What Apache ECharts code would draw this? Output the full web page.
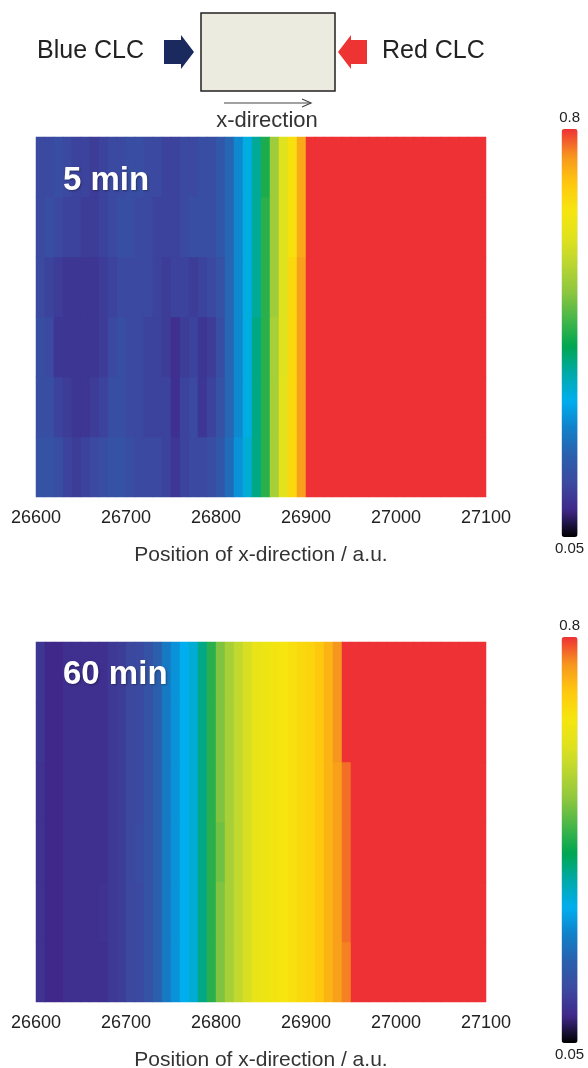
<!DOCTYPE html>
<html>
<head>
<meta charset="utf-8">
<script src="https://cdn.jsdelivr.net/npm/echarts@6/dist/echarts.min.js"></script>
<style>
  html, body { margin: 0; padding: 0; background: #fff; }
  #main { width: 588px; height: 1068px; }
</style>
</head>
<body>
<div id="main"></div>
<script>
// cell centres along x (a.u.), 10 units wide
var xCells = [26605, 26615, 26625, 26635, 26645, 26655, 26665, 26675, 26685, 26695,
              26705, 26715, 26725, 26735, 26745, 26755, 26765, 26775, 26785, 26795,
              26805, 26815, 26825, 26835, 26845, 26855, 26865, 26875, 26885, 26895,
              26905, 26915, 26925, 26935, 26945, 26955, 26965, 26975, 26985, 26995,
              27005, 27015, 27025, 27035, 27045, 27055, 27065, 27075, 27085, 27095];
var yRows = ['r0', 'r1', 'r2', 'r3', 'r4', 'r5'];
var xTicks = [26600, 26700, 26800, 26900, 27000, 27100];
var cbarLabels = ['0.8', '0.05'];

// 5 min, rows bottom -> top
var min5Rows = [
  [0.17,0.17,0.16,0.14,0.13,0.14,0.15,0.16,0.17,0.17,0.16,0.15,0.15,0.15,0.14,0.12,0.14,0.15,0.15,0.16,
   0.18,0.22,0.27,0.32,0.37,0.43,0.53,0.61,0.67,0.74,0.8,0.8,0.8,0.8,0.8,0.8,0.8,0.8,0.8,0.8,
   0.8,0.8,0.8,0.8,0.8,0.8,0.8,0.8,0.8,0.8],
  [0.16,0.16,0.14,0.13,0.12,0.12,0.13,0.14,0.16,0.16,0.15,0.15,0.14,0.14,0.14,0.11,0.14,0.15,0.12,0.14,
   0.17,0.21,0.26,0.31,0.37,0.43,0.53,0.61,0.67,0.74,0.8,0.8,0.8,0.8,0.8,0.8,0.8,0.8,0.8,0.8,
   0.8,0.8,0.8,0.8,0.8,0.8,0.8,0.8,0.8,0.8],
  [0.16,0.15,0.12,0.12,0.12,0.12,0.12,0.13,0.15,0.16,0.15,0.15,0.14,0.14,0.13,0.11,0.13,0.14,0.12,0.13,
   0.16,0.21,0.26,0.31,0.37,0.43,0.53,0.60,0.67,0.74,0.8,0.8,0.8,0.8,0.8,0.8,0.8,0.8,0.8,0.8,
   0.8,0.8,0.8,0.8,0.8,0.8,0.8,0.8,0.8,0.8],
  [0.15,0.14,0.13,0.12,0.12,0.12,0.12,0.13,0.14,0.15,0.15,0.15,0.15,0.14,0.13,0.14,0.14,0.13,0.14,0.15,
   0.17,0.21,0.26,0.31,0.36,0.43,0.52,0.60,0.67,0.74,0.8,0.8,0.8,0.8,0.8,0.8,0.8,0.8,0.8,0.8,
   0.8,0.8,0.8,0.8,0.8,0.8,0.8,0.8,0.8,0.8],
  [0.15,0.16,0.15,0.14,0.14,0.13,0.13,0.14,0.15,0.16,0.16,0.15,0.15,0.14,0.14,0.14,0.15,0.16,0.16,0.16,
   0.18,0.21,0.26,0.31,0.36,0.43,0.52,0.60,0.66,0.73,0.8,0.8,0.8,0.8,0.8,0.8,0.8,0.8,0.8,0.8,
   0.8,0.8,0.8,0.8,0.8,0.8,0.8,0.8,0.8,0.8],
  [0.15,0.15,0.16,0.15,0.14,0.14,0.13,0.14,0.15,0.15,0.16,0.16,0.15,0.15,0.14,0.14,0.15,0.15,0.16,0.16,
   0.18,0.21,0.26,0.31,0.36,0.42,0.52,0.60,0.66,0.73,0.8,0.8,0.8,0.8,0.8,0.8,0.8,0.8,0.8,0.8,
   0.8,0.8,0.8,0.8,0.8,0.8,0.8,0.8,0.8,0.8]
];

// 60 min, rows bottom -> top
var min60Rows = [
  [0.115,0.10,0.10,0.11,0.11,0.11,0.11,0.11,0.125,0.13,0.145,0.15,0.17,0.20,0.24,0.27,0.30,0.32,0.37,0.43,
   0.49,0.53,0.56,0.59,0.62,0.63,0.64,0.65,0.66,0.67,0.68,0.70,0.72,0.74,0.76,0.8,0.8,0.8,0.8,0.8,
   0.8,0.8,0.8,0.8,0.8,0.8,0.8,0.8,0.8,0.8],
  [0.115,0.10,0.10,0.11,0.11,0.11,0.11,0.115,0.125,0.13,0.145,0.15,0.17,0.20,0.24,0.27,0.30,0.32,0.37,0.43,
   0.49,0.53,0.56,0.59,0.62,0.63,0.64,0.65,0.66,0.67,0.68,0.70,0.72,0.74,0.77,0.8,0.8,0.8,0.8,0.8,
   0.8,0.8,0.8,0.8,0.8,0.8,0.8,0.8,0.8,0.8],
  [0.115,0.10,0.10,0.11,0.11,0.11,0.11,0.11,0.125,0.13,0.145,0.155,0.17,0.20,0.24,0.27,0.30,0.32,0.37,0.43,
   0.48,0.53,0.56,0.59,0.62,0.63,0.64,0.65,0.66,0.67,0.68,0.70,0.72,0.74,0.77,0.8,0.8,0.8,0.8,0.8,
   0.8,0.8,0.8,0.8,0.8,0.8,0.8,0.8,0.8,0.8],
  [0.115,0.10,0.10,0.11,0.11,0.11,0.11,0.11,0.125,0.13,0.145,0.15,0.17,0.20,0.24,0.27,0.30,0.32,0.37,0.43,
   0.49,0.53,0.56,0.59,0.62,0.63,0.64,0.65,0.66,0.67,0.68,0.70,0.72,0.74,0.77,0.8,0.8,0.8,0.8,0.8,
   0.8,0.8,0.8,0.8,0.8,0.8,0.8,0.8,0.8,0.8],
  [0.12,0.10,0.10,0.11,0.11,0.11,0.11,0.11,0.125,0.13,0.145,0.15,0.17,0.20,0.24,0.27,0.30,0.32,0.37,0.43,
   0.49,0.53,0.56,0.59,0.62,0.63,0.64,0.65,0.66,0.67,0.68,0.70,0.72,0.75,0.8,0.8,0.8,0.8,0.8,0.8,
   0.8,0.8,0.8,0.8,0.8,0.8,0.8,0.8,0.8,0.8],
  [0.12,0.10,0.10,0.11,0.11,0.11,0.11,0.11,0.125,0.13,0.145,0.15,0.17,0.20,0.24,0.27,0.30,0.32,0.37,0.43,
   0.49,0.53,0.56,0.59,0.62,0.63,0.64,0.65,0.66,0.67,0.68,0.70,0.72,0.75,0.8,0.8,0.8,0.8,0.8,0.8,
   0.8,0.8,0.8,0.8,0.8,0.8,0.8,0.8,0.8,0.8]
];

// colour scale 0.05 -> 0.8
var scaleColors = ['#000000', '#40288a', '#3b4aa0', '#2b5fad', '#1180c8', '#00aeef', '#00aaaa', '#00a651',
                   '#45b649', '#8dc63f', '#b9d532', '#e0e21e', '#f6e50e', '#fec80e', '#f7961e', '#ee3134'];

function toCells(rows) {
  var out = [];
  rows.forEach(function (row, j) {
    row.forEach(function (v, i) { out.push([i, j, v]); });
  });
  return out;
}

var font = 'Liberation Sans, Arial, sans-serif';

function axesFor(gi) {
  return {
    x: [
      { type: 'category', gridIndex: gi, data: xCells, show: false },
      { type: 'value', gridIndex: gi, min: xTicks[0], max: xTicks[xTicks.length - 1], interval: 100,
        position: 'bottom',
        axisLine: { show: false }, axisTick: { show: false }, splitLine: { show: false },
        axisLabel: { fontSize: 18, color: '#222', fontFamily: font, margin: 12,
                     formatter: function (v) { return String(v); } },
        name: 'Position of x-direction / a.u.', nameLocation: 'middle', nameGap: 48,
        nameTextStyle: { fontSize: 21, color: '#333', fontFamily: font } }
    ],
    y: { type: 'category', gridIndex: gi, data: yRows, show: false }
  };
}

var a0 = axesFor(0), a1 = axesFor(1);

var myChart = echarts.init(document.getElementById('main'));
myChart.setOption({
  animation: false,
  backgroundColor: '#fff',
  grid: [
    { left: 36, top: 137, width: 450, height: 360, outerBoundsMode: 'none', containLabel: false },
    { left: 36, top: 642, width: 450, height: 360, outerBoundsMode: 'none', containLabel: false }
  ],
  xAxis: a0.x.concat(a1.x),
  yAxis: [a0.y, a1.y],
  visualMap: [
    { type: 'continuous', seriesIndex: 0, min: 0.05, max: 0.8, orient: 'vertical',
      left: 540, top: 95, itemWidth: 16, itemHeight: 408, calculable: false,
      text: cbarLabels, textGap: 4, textStyle: { fontSize: 15, color: '#222', fontFamily: font },
      inRange: { color: scaleColors } },
    { type: 'continuous', seriesIndex: 1, min: 0.05, max: 0.8, orient: 'vertical',
      left: 540, top: 603, itemWidth: 16, itemHeight: 406, calculable: false,
      text: cbarLabels, textGap: 4, textStyle: { fontSize: 15, color: '#222', fontFamily: font },
      inRange: { color: scaleColors } }
  ],
  series: [
    { type: 'heatmap', xAxisIndex: 0, yAxisIndex: 0, data: toCells(min5Rows),
      itemStyle: { borderWidth: 0 }, emphasis: { disabled: true } },
    { type: 'heatmap', xAxisIndex: 2, yAxisIndex: 1, data: toCells(min60Rows),
      itemStyle: { borderWidth: 0 }, emphasis: { disabled: true } }
  ],
  graphic: [
    // sketch of the cell
    { type: 'text', x: 37, y: 51, z: 100, style: { text: 'Blue CLC', fontSize: 25, fontFamily: font, fill: '#222', verticalAlign: 'middle' } },
    { type: 'polygon', z: 100, shape: { points: [[164, 40], [181, 40], [181, 35], [194, 52], [181, 69], [181, 64], [164, 64]] }, style: { fill: '#1b2a5e' } },
    { type: 'rect', z: 100, shape: { x: 201, y: 13, width: 134, height: 78 }, style: { fill: '#ecebe0', stroke: '#222', lineWidth: 1.5 } },
    { type: 'polygon', z: 100, shape: { points: [[367, 40], [351, 40], [351, 35], [338, 52], [351, 69], [351, 64], [367, 64]] }, style: { fill: '#ee3333' } },
    { type: 'text', x: 382, y: 51, z: 100, style: { text: 'Red CLC', fontSize: 25, fontFamily: font, fill: '#222', verticalAlign: 'middle' } },
    { type: 'line', z: 100, shape: { x1: 224, y1: 103, x2: 311, y2: 103 }, style: { stroke: '#444', lineWidth: 1.2 } },
    { type: 'polyline', z: 100, shape: { points: [[302, 99], [311, 103], [302, 107]] }, style: { stroke: '#444', lineWidth: 1.2, fill: null } },
    { type: 'text', x: 267, y: 121, z: 100, style: { text: 'x-direction', fontSize: 22, fontFamily: font, fill: '#333', align: 'center', verticalAlign: 'middle' } },
    // panel labels
    { type: 'text', x: 63, y: 181, z: 100, style: { text: '5 min', fontSize: 33, fontWeight: 'bold', fontFamily: font, fill: '#fff', verticalAlign: 'middle', textShadowColor: 'rgba(0,0,0,0.35)', textShadowBlur: 2, textShadowOffsetX: 1, textShadowOffsetY: 1 } },
    { type: 'text', x: 63, y: 675, z: 100, style: { text: '60 min', fontSize: 33, fontWeight: 'bold', fontFamily: font, fill: '#fff', verticalAlign: 'middle', textShadowColor: 'rgba(0,0,0,0.35)', textShadowBlur: 2, textShadowOffsetX: 1, textShadowOffsetY: 1 } }
  ]
});
</script>
</body>
</html>
